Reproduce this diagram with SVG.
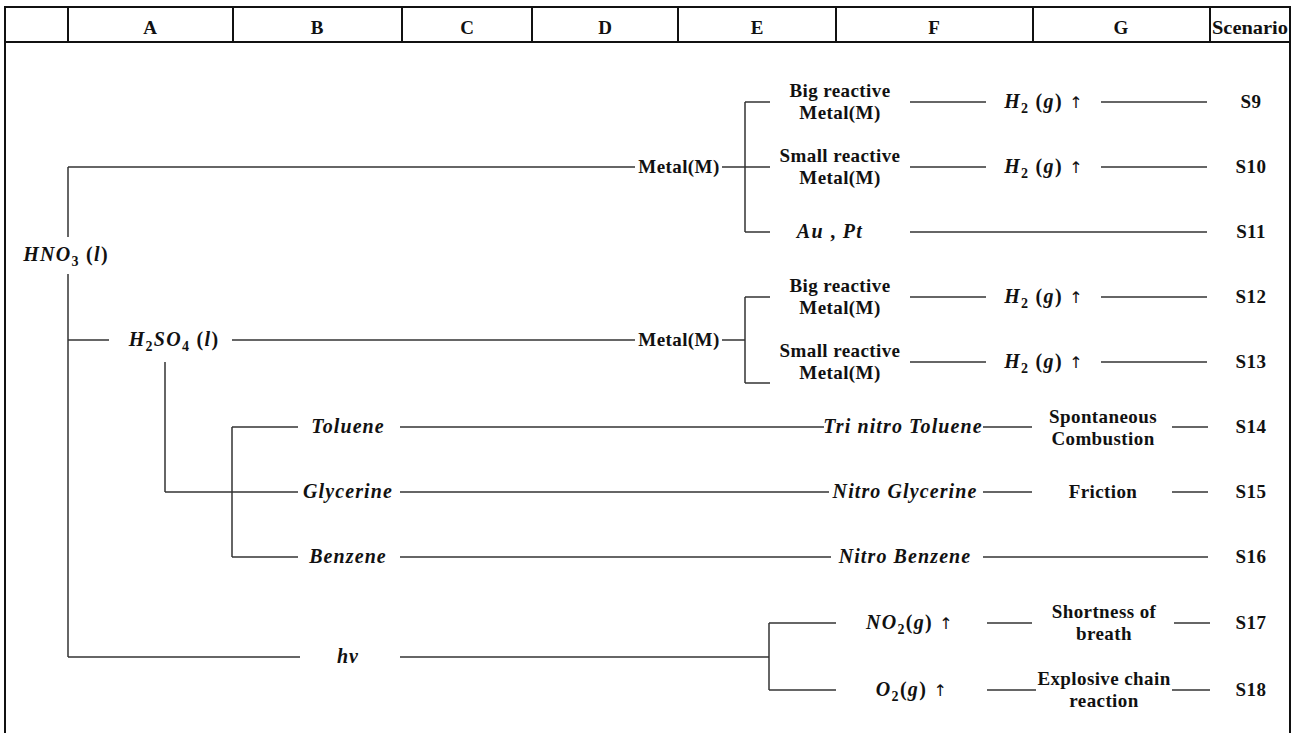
<svg xmlns="http://www.w3.org/2000/svg" width="1296" height="733" viewBox="0 0 1296 733">
<style>
.frame line{stroke:#111;stroke-width:2}
.conn line{stroke:#333;stroke-width:1.5}
text{font-family:"Liberation Serif","Times New Roman",serif;fill:#111;font-weight:bold}
.hdr{font-size:19px;text-anchor:middle}
.lb{font-size:19px;text-anchor:middle;letter-spacing:0.4px}
.it{font-size:20px;font-style:italic;text-anchor:middle;letter-spacing:1.1px}
.m{font-size:20px;text-anchor:middle;letter-spacing:1.3px}
.i{font-style:italic}
.sub{font-size:14px;font-style:normal}
.ar{font-family:"DejaVu Sans",sans-serif;font-weight:normal;font-size:16px;fill:#111}
</style>
<rect width="1296" height="733" fill="#fff"/>
<g class="frame" id="table">
<line x1="4" y1="7" x2="1291" y2="7"/>
<line x1="4" y1="42" x2="1291" y2="42"/>
<line x1="5" y1="6" x2="5" y2="733"/>
<line x1="1290" y1="6" x2="1290" y2="733"/>
<line x1="68" y1="7" x2="68" y2="42"/>
<line x1="233" y1="7" x2="233" y2="42"/>
<line x1="402" y1="7" x2="402" y2="42"/>
<line x1="532" y1="7" x2="532" y2="42"/>
<line x1="678" y1="7" x2="678" y2="42"/>
<line x1="836" y1="7" x2="836" y2="42"/>
<line x1="1033" y1="7" x2="1033" y2="42"/>
<line x1="1210" y1="7" x2="1210" y2="42"/>
<text class="hdr" x="150" y="34">A</text>
<text class="hdr" x="317" y="34">B</text>
<text class="hdr" x="467" y="34">C</text>
<text class="hdr" x="605" y="34">D</text>
<text class="hdr" x="757" y="34">E</text>
<text class="hdr" x="934" y="34">F</text>
<text class="hdr" x="1121" y="34">G</text>
<text class="hdr" x="1250" y="34" textLength="76" lengthAdjust="spacingAndGlyphs">Scenario</text>
</g>
<g class="conn" id="connectors">
<line x1="68" y1="167" x2="68" y2="237"/>
<line x1="68" y1="274" x2="68" y2="657"/>
<line x1="68" y1="167" x2="635" y2="167"/>
<line x1="722" y1="167" x2="745" y2="167"/>
<line x1="745" y1="102" x2="745" y2="232"/>
<line x1="745" y1="102" x2="770" y2="102"/>
<line x1="745" y1="167" x2="770" y2="167"/>
<line x1="745" y1="232" x2="770" y2="232"/>
<line x1="910" y1="102" x2="986" y2="102"/>
<line x1="1101" y1="102" x2="1207" y2="102"/>
<line x1="910" y1="167" x2="986" y2="167"/>
<line x1="1101" y1="167" x2="1207" y2="167"/>
<line x1="910" y1="232" x2="1207" y2="232"/>
<line x1="68" y1="340" x2="109" y2="340"/>
<line x1="232" y1="340" x2="635" y2="340"/>
<line x1="722" y1="340" x2="745" y2="340"/>
<line x1="745" y1="297" x2="745" y2="383"/>
<line x1="745" y1="297" x2="770" y2="297"/>
<line x1="745" y1="383" x2="770" y2="383"/>
<line x1="910" y1="297" x2="986" y2="297"/>
<line x1="1101" y1="297" x2="1207" y2="297"/>
<line x1="910" y1="362" x2="986" y2="362"/>
<line x1="1101" y1="362" x2="1207" y2="362"/>
<line x1="165" y1="362" x2="165" y2="492"/>
<line x1="165" y1="492" x2="298" y2="492"/>
<line x1="232" y1="427" x2="232" y2="557"/>
<line x1="232" y1="427" x2="298" y2="427"/>
<line x1="232" y1="557" x2="298" y2="557"/>
<line x1="400" y1="427" x2="824" y2="427"/>
<line x1="983" y1="427" x2="1032" y2="427"/>
<line x1="1172" y1="427" x2="1208" y2="427"/>
<line x1="400" y1="492" x2="829" y2="492"/>
<line x1="983" y1="492" x2="1032" y2="492"/>
<line x1="1172" y1="492" x2="1208" y2="492"/>
<line x1="400" y1="557" x2="831" y2="557"/>
<line x1="983" y1="557" x2="1208" y2="557"/>
<line x1="68" y1="657" x2="300" y2="657"/>
<line x1="400" y1="657" x2="769" y2="657"/>
<line x1="769" y1="623" x2="769" y2="690"/>
<line x1="769" y1="623" x2="836" y2="623"/>
<line x1="769" y1="690" x2="836" y2="690"/>
<line x1="987" y1="623" x2="1032" y2="623"/>
<line x1="1174" y1="623" x2="1210" y2="623"/>
<line x1="987" y1="690" x2="1036" y2="690"/>
<line x1="1172" y1="690" x2="1210" y2="690"/>
</g>
<g id="hno3"><text class="m" x="66" y="261"><tspan class="i">HNO</tspan><tspan class="sub" dy="5">3</tspan><tspan dy="-5"> (</tspan><tspan class="i">l</tspan>)</text></g>
<g id="metal1"><text class="lb" x="679" y="173">Metal(M)</text></g>
<g id="big1"><text class="lb" x="840" y="97">Big reactive</text><text class="lb" x="840" y="119">Metal(M)</text></g>
<g id="small1"><text class="lb" x="840" y="162">Small reactive</text><text class="lb" x="840" y="184">Metal(M)</text></g>
<g id="aupt"><text class="m" x="830" y="238"><tspan class="i">Au</tspan> , <tspan class="i">Pt</tspan></text></g>
<g id="h2a"><text class="m" x="1044" y="108"><tspan class="i">H</tspan><tspan class="sub" dy="5">2</tspan><tspan dy="-5"> (</tspan><tspan class="i">g</tspan>) <tspan class="ar">↑</tspan></text></g>
<g id="h2b"><text class="m" x="1044" y="173"><tspan class="i">H</tspan><tspan class="sub" dy="5">2</tspan><tspan dy="-5"> (</tspan><tspan class="i">g</tspan>) <tspan class="ar">↑</tspan></text></g>
<g id="s9"><text class="lb" x="1251" y="108">S9</text></g>
<g id="s10"><text class="lb" x="1251" y="173">S10</text></g>
<g id="s11"><text class="lb" x="1251" y="238">S11</text></g>
<g id="h2so4"><text class="m" x="174" y="346"><tspan class="i">H</tspan><tspan class="sub" dy="5">2</tspan><tspan class="i" dy="-5">SO</tspan><tspan class="sub" dy="5">4</tspan><tspan dy="-5"> (</tspan><tspan class="i">l</tspan>)</text></g>
<g id="metal2"><text class="lb" x="679" y="346">Metal(M)</text></g>
<g id="big2"><text class="lb" x="840" y="292">Big reactive</text><text class="lb" x="840" y="314">Metal(M)</text></g>
<g id="small2"><text class="lb" x="840" y="357">Small reactive</text><text class="lb" x="840" y="379">Metal(M)</text></g>
<g id="h2c"><text class="m" x="1044" y="303"><tspan class="i">H</tspan><tspan class="sub" dy="5">2</tspan><tspan dy="-5"> (</tspan><tspan class="i">g</tspan>) <tspan class="ar">↑</tspan></text></g>
<g id="h2d"><text class="m" x="1044" y="368"><tspan class="i">H</tspan><tspan class="sub" dy="5">2</tspan><tspan dy="-5"> (</tspan><tspan class="i">g</tspan>) <tspan class="ar">↑</tspan></text></g>
<g id="s12"><text class="lb" x="1251" y="303">S12</text></g>
<g id="s13"><text class="lb" x="1251" y="368">S13</text></g>
<g id="toluene"><text class="it" x="348" y="433">Toluene</text></g>
<g id="glycerine"><text class="it" x="348" y="498">Glycerine</text></g>
<g id="benzene"><text class="it" x="348" y="563">Benzene</text></g>
<g id="tnt"><text class="it" x="903" y="433">Tri nitro Toluene</text></g>
<g id="ng"><text class="it" x="905" y="498">Nitro Glycerine</text></g>
<g id="nb"><text class="it" x="905" y="563">Nitro Benzene</text></g>
<g id="spont"><text class="lb" x="1103" y="423">Spontaneous</text><text class="lb" x="1103" y="445">Combustion</text></g>
<g id="friction"><text class="lb" x="1103" y="498">Friction</text></g>
<g id="s14"><text class="lb" x="1251" y="433">S14</text></g>
<g id="s15"><text class="lb" x="1251" y="498">S15</text></g>
<g id="s16"><text class="lb" x="1251" y="563">S16</text></g>
<g id="hv"><text class="it" x="348" y="663">hv</text></g>
<g id="no2"><text class="m" x="910" y="629"><tspan class="i">NO</tspan><tspan class="sub" dy="5">2</tspan><tspan dy="-5">(</tspan><tspan class="i">g</tspan>) <tspan class="ar">↑</tspan></text></g>
<g id="o2"><text class="m" x="912" y="696"><tspan class="i">O</tspan><tspan class="sub" dy="5">2</tspan><tspan dy="-5">(</tspan><tspan class="i">g</tspan>) <tspan class="ar">↑</tspan></text></g>
<g id="breath"><text class="lb" x="1104" y="618">Shortness of</text><text class="lb" x="1104" y="640">breath</text></g>
<g id="explosive"><text class="lb" x="1104" y="685">Explosive chain</text><text class="lb" x="1104" y="707">reaction</text></g>
<g id="s17"><text class="lb" x="1251" y="629">S17</text></g>
<g id="s18"><text class="lb" x="1251" y="696">S18</text></g>
</svg>
